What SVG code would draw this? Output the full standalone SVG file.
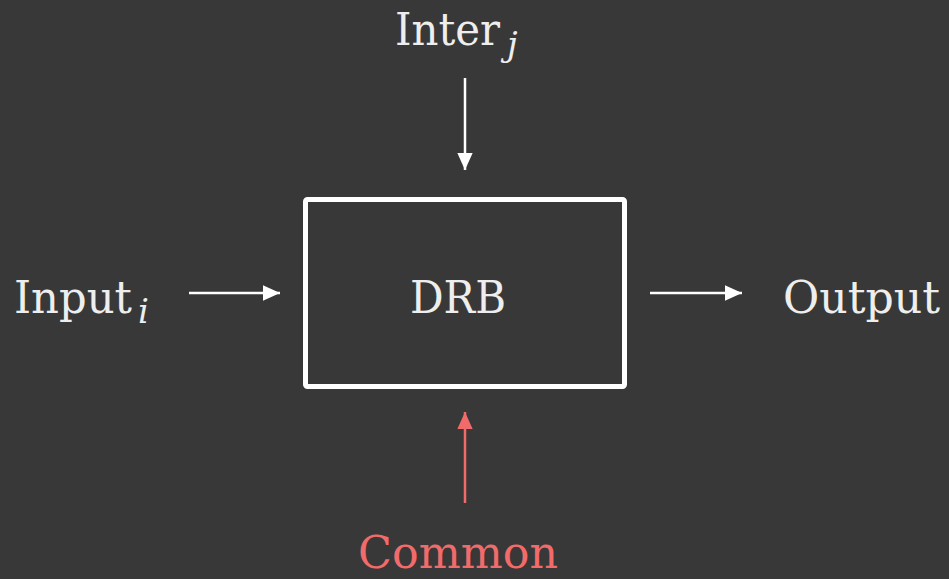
<svg xmlns="http://www.w3.org/2000/svg" width="949" height="579" viewBox="0 0 949 579">
<defs>
<style>
.lbl{font-family:"DejaVu Serif","Liberation Serif",serif;font-size:45px;fill:#EEEEEE}
.sub{font-style:italic;font-size:34px}
.w{stroke:#FFFFFF;stroke-width:2.5;fill:none}
.r{stroke:#F26B6B;stroke-width:2.5;fill:none}
</style>
<marker id="aw" viewBox="0 0 10 10" refX="10" refY="5" markerUnits="userSpaceOnUse" markerWidth="17" markerHeight="17" orient="auto"><path d="M0,0.5 L10,5 L0,9.5 z" fill="#FFFFFF"/></marker>
<marker id="ar" viewBox="0 0 10 10" refX="10" refY="5" markerUnits="userSpaceOnUse" markerWidth="17" markerHeight="17" orient="auto"><path d="M0,0.5 L10,5 L0,9.5 z" fill="#F26B6B"/></marker>
</defs>
<rect width="949" height="579" fill="#383838"/>
<g id="connectors">
<line class="w" x1="465" y1="78" x2="465" y2="170" marker-end="url(#aw)"/>
<line class="w" x1="189" y1="293" x2="280" y2="293" marker-end="url(#aw)"/>
<line class="w" x1="650" y1="293" x2="742" y2="293" marker-end="url(#aw)"/>
<line class="r" x1="465" y1="503" x2="465" y2="412" marker-end="url(#ar)"/>
</g>
<g id="drb">
<rect x="305.5" y="199.5" width="319" height="187" rx="2" fill="none" stroke="#FFFFFF" stroke-width="5"/>
<text class="lbl" x="410" y="313" textLength="96" lengthAdjust="spacingAndGlyphs">DRB</text>
</g>
<g id="inter">
<text class="lbl" x="395" y="45"><tspan textLength="105" lengthAdjust="spacingAndGlyphs">Inter</tspan><tspan class="sub" x="507" y="56">j</tspan></text>
</g>
<g id="input">
<text class="lbl" x="14" y="313"><tspan textLength="118" lengthAdjust="spacingAndGlyphs">Input</tspan><tspan class="sub" x="138" y="323">i</tspan></text>
</g>
<g id="output">
<text class="lbl" x="783" y="313" textLength="157" lengthAdjust="spacingAndGlyphs">Output</text>
</g>
<g id="common">
<text class="lbl" x="358" y="568" textLength="200" lengthAdjust="spacingAndGlyphs" style="fill:#F26B6B">Common</text>
</g>
</svg>
